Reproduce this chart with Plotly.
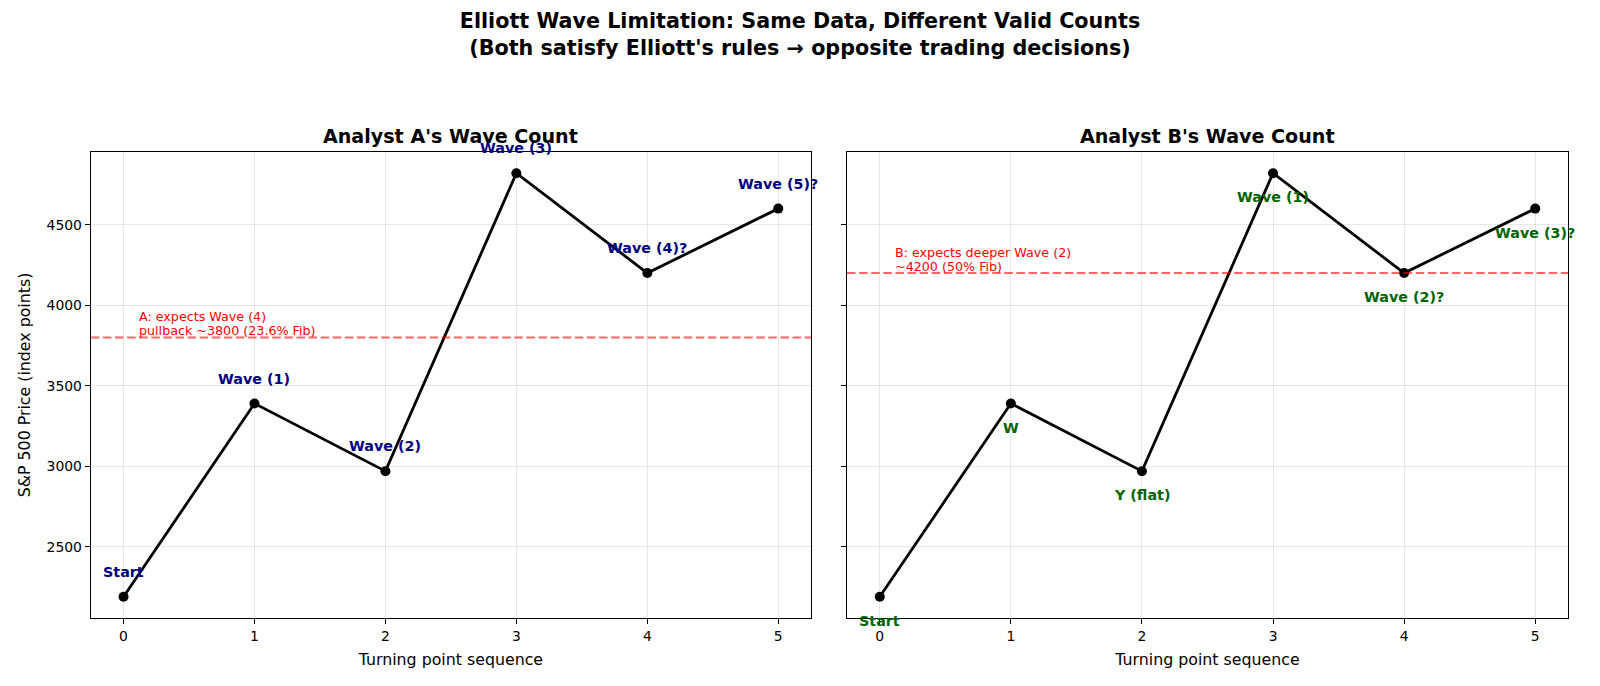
import plotly.graph_objects as go

# ---- data ----
steps = [0, 1, 2, 3, 4, 5]
prices = [2190, 3390, 2970, 4820, 4200, 4600]
labels_a = ["Start", "Wave (1)", "Wave (2)", "Wave (3)", "Wave (4)?", "Wave (5)?"]
labels_b = ["Start", "W", "Y (flat)", "Wave (1)", "Wave (2)?", "Wave (3)?"]
target_a = 3800
target_b = 4200
note_a = ["A: expects Wave (4)", "pullback ~3800 (23.6% Fib)"]
note_b = ["B: expects deeper Wave (2)", "~4200 (50% Fib)"]
y_ticks = [2500, 3000, 3500, 4000, 4500]

FONT = "DejaVu Sans"
W, H = 1600, 686

lo, hi = min(prices), max(prices)
pad = 0.05 * (hi - lo)
yrange = [lo - pad, hi + pad]
xrange = [-0.25, 5.25]

dom_a = [90.8 / W, 811 / W]
dom_b = [847 / W, 1568 / W]
ydom = [1 - 618 / H, 1 - 152 / H]

fig = go.Figure()
for xa, ya in (("x", "y"), ("x2", "y2")):
    fig.add_trace(go.Scatter(
        x=steps, y=prices, mode="lines+markers", xaxis=xa, yaxis=ya,
        line=dict(color="black", width=2.8),
        marker=dict(color="black", size=10),
        showlegend=False, hoverinfo="skip"))

# target dashed lines
for xa, ya, t in (("x", "y", target_a), ("x2", "y2", target_b)):
    fig.add_trace(go.Scatter(
        x=xrange, y=[t, t], mode="lines", xaxis=xa, yaxis=ya,
        line=dict(color="rgba(255,0,0,0.6)", width=2.1, dash="8.5px,3.6px"),
        showlegend=False, hoverinfo="skip"))

ann = []
for x, y, lab in zip(steps, prices, labels_a):
    ann.append(dict(x=x, y=y, xref="x", yref="y", text="<b>%s</b>" % lab,
                    showarrow=False, yshift=25, xanchor="center", yanchor="middle",
                    font=dict(family=FONT, size=14.3, color="#000080")))
for x, y, lab in zip(steps, prices, labels_b):
    ann.append(dict(x=x, y=y, xref="x2", yref="y2", text="<b>%s</b>" % lab,
                    showarrow=False, yshift=-24, xanchor="center", yanchor="middle",
                    font=dict(family=FONT, size=14.3, color="#006400")))
for xr, yr, t, lines in (("x", "y", target_a, note_a), ("x2", "y2", target_b, note_b)):
    n = len(lines)
    for i, line in enumerate(lines):
        ann.append(dict(x=0.1, y=t, xref=xr, yref=yr, text=line, showarrow=False,
                        xanchor="left", yanchor="middle", align="left",
                        yshift=6.5 + 14.3 * (n - 1 - i),
                        font=dict(family=FONT, size=12.7, color="red")))
# subplot titles
for dom, t in ((dom_a, "Analyst A's Wave Count"), (dom_b, "Analyst B's Wave Count")):
    ann.append(dict(x=(dom[0] + dom[1]) / 2, y=1 - 136 / H, xref="paper", yref="paper",
                    text="<b>%s</b>" % t, showarrow=False, xanchor="center", yanchor="middle",
                    font=dict(family=FONT, size=19.1, color="black")))

axis_common = dict(showline=True, linecolor="black", linewidth=1.1, mirror=True,
                   ticks="outside", ticklen=5, tickwidth=1.1, tickcolor="black",
                   showgrid=True, gridcolor="rgba(176,176,176,0.3)", gridwidth=1.1,
                   zeroline=False, tickfont=dict(family=FONT, size=13.9, color="black"))

fig.update_layout(
    width=W, height=H, margin=dict(l=0, r=0, t=0, b=0),
    paper_bgcolor="white", plot_bgcolor="white",
    font=dict(family=FONT, color="black"),
    title=dict(text="<b>Elliott Wave Limitation: Same Data, Different Valid Counts<br>"
                    "(Both satisfy Elliott's rules \u2192 opposite trading decisions)</b>",
               x=0.5, xanchor="center", y=1 - 28.4 / H, yanchor="middle", yref="container",
               font=dict(family=FONT, size=20.7, color="black")),
    xaxis=dict(domain=dom_a, range=xrange, tickvals=steps, anchor="y",
               title=dict(text="Turning point sequence", standoff=11,
                          font=dict(family=FONT, size=15.8)), **axis_common),
    xaxis2=dict(domain=dom_b, range=xrange, tickvals=steps, anchor="y2",
                title=dict(text="Turning point sequence", standoff=11,
                           font=dict(family=FONT, size=15.8)), **axis_common),
    yaxis=dict(domain=ydom, range=yrange, tickvals=y_ticks, anchor="x",
               title=dict(text="S&P 500 Price (index points)", standoff=12,
                          font=dict(family=FONT, size=15.8)), **axis_common),
    yaxis2=dict(domain=ydom, range=yrange, tickvals=y_ticks, anchor="x2", matches="y",
                showticklabels=False, **axis_common),
    annotations=ann,
)

fig.write_html("out.html")
